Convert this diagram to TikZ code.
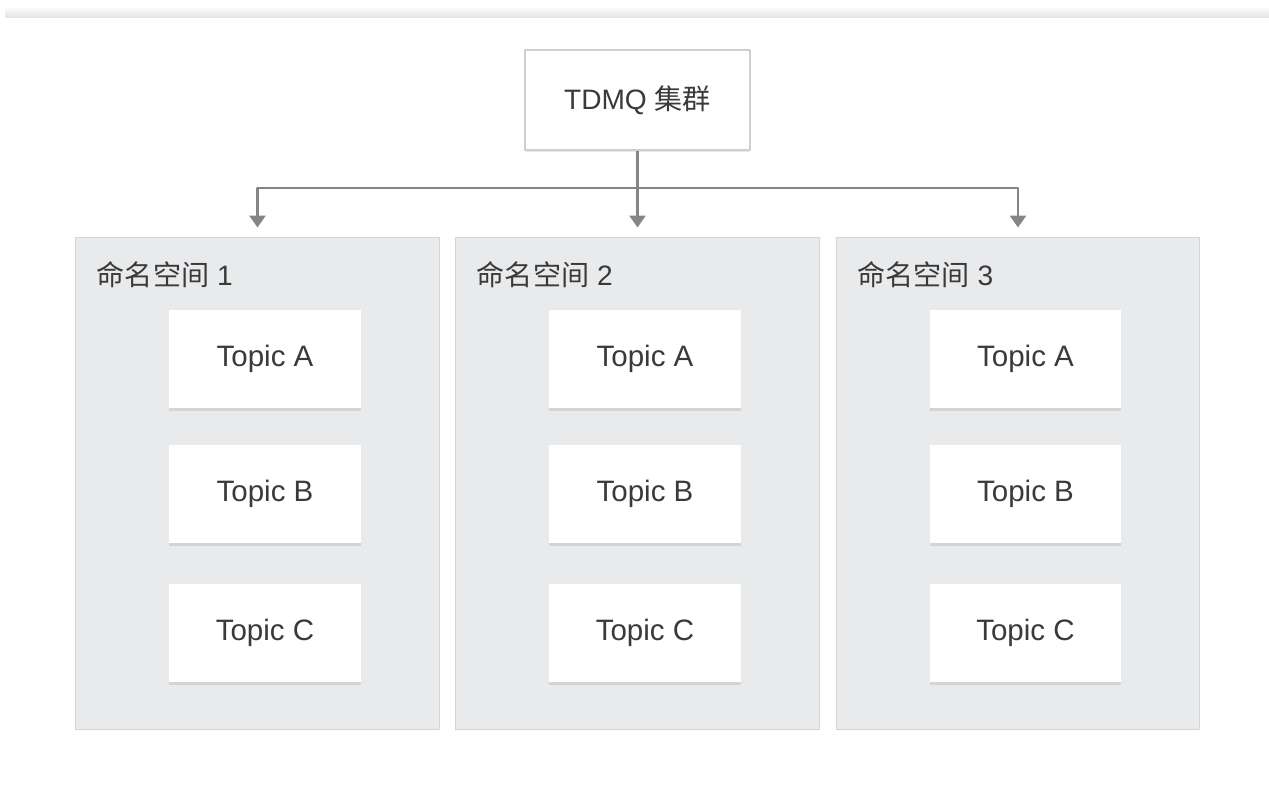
\documentclass[tikz,border=0pt]{standalone}
\usepackage{fontspec}
\setmainfont{Liberation Sans}
\newfontfamily\cjk{Noto Sans CJK SC}
\usetikzlibrary{arrows.meta,shadows}
\definecolor{linegray}{HTML}{858585}
\definecolor{nsfill}{HTML}{E9EAEC}
\definecolor{nsline}{HTML}{D3D4D6}
\definecolor{boxline}{HTML}{CFCFCF}
\definecolor{txt}{HTML}{3A3A3A}
\definecolor{bandgray}{HTML}{E4E4E4}
\begin{document}
\begin{tikzpicture}[x=0.02cm,y=-0.02cm,>={Triangle[width=0.32cm,length=0.24cm]},line join=round,
		font=\fontsize{16pt}{19pt}\selectfont,text=txt]
	\tikzset{
		cluster/.style={draw=boxline,line width=0.6pt,fill=white,minimum width=4.5cm,minimum height=2cm,
			drop shadow={shadow xshift=0pt,shadow yshift=-1.2pt,opacity=0.18}},
		nspace/.style={draw=nsline,line width=0.6pt,fill=nsfill,minimum width=7.28cm,minimum height=9.86cm},
		topic/.style={fill=white,minimum width=3.84cm,minimum height=1.96cm,
			font=\fontsize{16.8pt}{19pt}\selectfont,
			drop shadow={shadow xshift=0pt,shadow yshift=-1.5pt,opacity=0.2}},
		link/.style={draw=linegray,line width=1.5pt},
	}
	\useasboundingbox (0,0) rectangle (1269,806);
	% top band
	\shade[top color=white,bottom color=bandgray] (5,6) rectangle (1269,17.5);
	\node[cluster] (tdmq) at (637.5,100) {TDMQ {\cjk 集群}};
	\coordinate (hub) at (637.5,188);
	\foreach \i/\cx in {1/257.5,2/637.5,3/1018}{
		\node[nspace] (ns\i) at (\cx,483.5) {};
		\node[anchor=west,inner sep=0pt] (lab\i) at (\cx-161,275) {{\cjk 命名空间} \i};
		\foreach \t/\ty in {A/359,B/494,C/633}{
			\node[topic] (t\i\t) at (\cx+7.5,\ty) {Topic \t};
		}
		\draw[link,->,shorten >=0.18cm] (hub) -| (ns\i.north);
	}
	\draw[link] (tdmq.south) -- (hub);
\end{tikzpicture}
\end{document}
